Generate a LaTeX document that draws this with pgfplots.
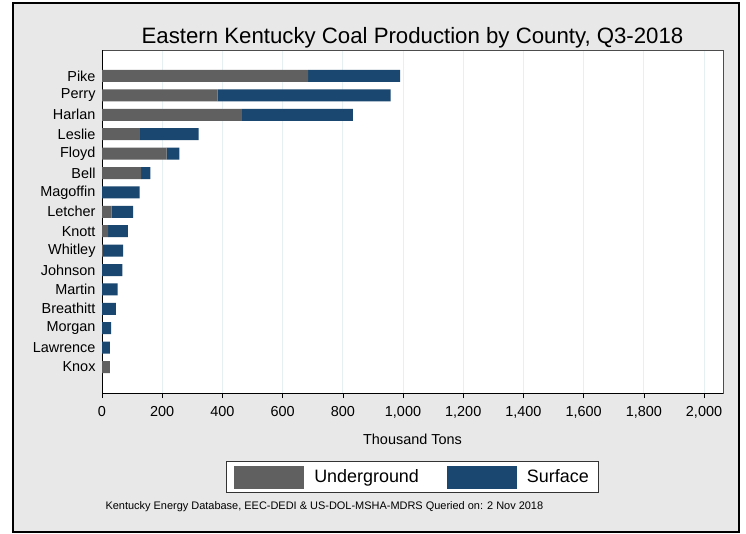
\documentclass[border=0pt]{standalone}
\usepackage{fontspec}
\setmainfont{Liberation Sans}
\usepackage{pgfplots}
\pgfplotsset{compat=1.18}

\definecolor{undergr}{RGB}{96,96,96}
\definecolor{surf}{RGB}{26,71,111}
\definecolor{bggray}{RGB}{232,232,232}
\definecolor{gridc}{RGB}{230,239,241}

\begin{document}
\begin{tikzpicture}
% page and outer frame
\fill[white] (0,0) rectangle (746bp,534bp);
\draw[line width=2.5bp, fill=bggray] (13bp,2bp) rectangle (739bp,531bp);

\begin{axis}[
    at={(102bp,141bp)},
    anchor=south west,
    scale only axis,
    width=621bp,
    height=343bp,
    xbar stacked,
    bar width=12bp,
    xmin=0, xmax=2063,
    ymin=-0.34, ymax=17.34,
    y dir=reverse,
    enlargelimits=false,
    axis background/.style={fill=white},
    axis line style={draw=black!70, line width=0.6bp},
    xtick={0,200,...,2000},
    ytick={1,...,16},
    yticklabels={Pike,Perry,Harlan,Leslie,Floyd,Bell,Magoffin,Letcher,Knott,
        Whitley,Johnson,Martin,Breathitt,Morgan,Lawrence,Knox},
    tick align=outside,
    major tick length=5bp,
    xtick pos=bottom,
    ytick style={draw=none},
    xtick style={black, line width=0.6bp},
    /pgf/number format/assume math mode=true,
    /pgf/number format/1000 sep={,},
    tick label style={font=\fontsize{14.5}{16}\selectfont},
    x tick label style={yshift=-4.5bp},
    y tick label style={xshift=2bp},
    xmajorgrids,
    grid style={gridc, line width=0.8bp},
    xlabel={Thousand Tons},
    xlabel style={font=\fontsize{14.5}{16}\selectfont, at={(axis description cs:0.5,0)}, anchor=center, yshift=-46bp},
    title={Eastern Kentucky Coal Production by County, Q3-2018},
    title style={font=\fontsize{22.3}{25}\selectfont, at={(axis description cs:0.5,1)}, anchor=base, yshift=1bp},
    legend columns=2,
    legend style={
        at={(axis description cs:0.5,-0.245)}, anchor=center,
        draw=black!80, line width=0.8bp, fill=white,
        font=\fontsize{18}{20}\selectfont,
        inner xsep=8bp, inner ysep=4bp,
        /tikz/every odd column/.append style={column sep=8bp},
        /tikz/every even column/.append style={column sep=26bp},
    },
    legend image code/.code={\path[#1,draw=none] (0bp,-11.5bp) rectangle (70bp,11.5bp);},
]
\addplot[fill=undergr, draw=none] coordinates {
    (685,1) (384,2) (465,3) (126,4) (215,5) (130,6) (0,7) (32,8)
    (20,9) (3,10) (0,11) (0,12) (0,13) (0,14) (0,15) (26,16)
};
\addplot[fill=surf, draw=none] coordinates {
    (305,1) (575,2) (368,3) (195,4) (42,5) (31,6) (125,7) (71,8)
    (66,9) (67,10) (68,11) (52,12) (46,13) (30,14) (26,15) (0,16)
};
\legend{Underground, Surface}
\draw[black, line width=0.8bp] (rel axis cs:0,0) -- (rel axis cs:0,1);
\draw[black, line width=0.8bp] (rel axis cs:0,0) -- (rel axis cs:1,0);
\end{axis}

\node[anchor=west, font=\fontsize{11}{12}\selectfont] at (102bp,27bp)
    {Kentucky Energy Database, EEC-DEDI \& US-DOL-MSHA-MDRS Queried on: 2 Nov 2018};
\end{tikzpicture}
\end{document}
